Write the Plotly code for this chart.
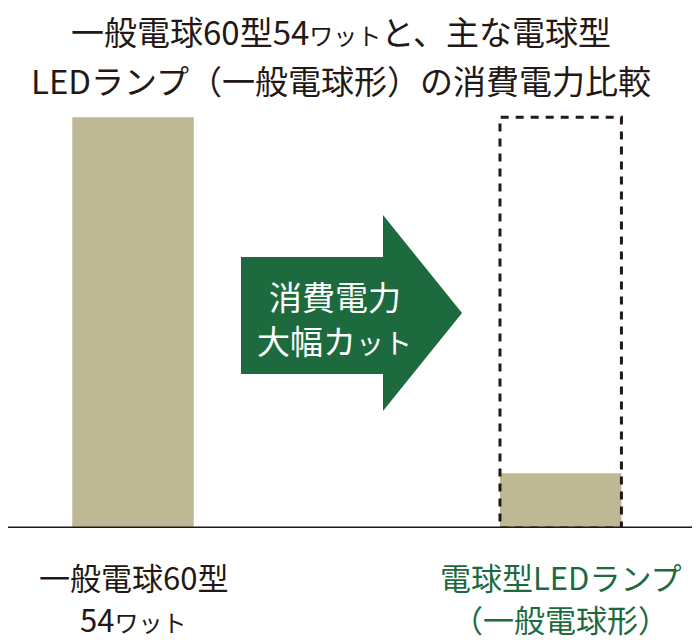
import plotly.graph_objects as go

# values (W)
categories = ["一般電球60型", "電球型LEDランプ"]
watts = [54, 7.2]
reference_watts = 54  # dashed outline on the LED bar

title_lines = [
    "一般電球60型54<span style='font-size:24px'>ワット</span>と、主な電球型",
    "LEDランプ（一般電球形）の消費電力比較",
]
bottom_labels = [
    ["一般電球60型", "54<span style='font-size:24px'>ワット</span>"],
    ["電球型LEDランプ", "（一般電球形）"],
]
arrow_lines = ["消費電力", "大幅カ<span style='font-size:28px'>ット</span>"]

FONT = "Noto Sans CJK JP"
INK = "#231815"
BEIGE = "#bfb894"
GREEN = "#1e6a3f"
BAR_W = 0.284

fig = go.Figure()
fig.add_trace(
    go.Bar(
        x=categories,
        y=watts,
        width=BAR_W,
        marker=dict(color=BEIGE, line=dict(width=0)),
        hoverinfo="skip",
    )
)

# dashed outline showing the 54W level over the LED bar
fig.add_shape(
    type="rect",
    xref="x",
    yref="y",
    x0=1 - BAR_W / 2,
    x1=1 + BAR_W / 2,
    y0=0,
    y1=reference_watts,
    line=dict(color=INK, width=3, dash="8px,7px"),
    fillcolor="rgba(0,0,0,0)",
    layer="above",
)

# baseline
fig.add_shape(
    type="line",
    xref="paper",
    yref="y",
    x0=0,
    x1=1,
    y0=0,
    y1=0,
    line=dict(color=INK, width=3),
    layer="above",
)

# big green arrow
fig.add_shape(
    type="path",
    xref="paper",
    yref="paper",
    path=(
        "M 0.3367 0.6362 L 0.5419 0.6362 L 0.5419 0.7347 L 0.6561 0.5047 "
        "L 0.5419 0.2746 L 0.5419 0.3615 L 0.3367 0.3615 Z"
    ),
    fillcolor=GREEN,
    line=dict(width=0),
    layer="above",
)

annotations = []
for line, y in zip(arrow_lines, [0.5446, 0.4413]):
    annotations.append(
        dict(
            text=line,
            x=0.4725,
            y=y,
            xref="paper",
            yref="paper",
            xanchor="center",
            yanchor="middle",
            showarrow=False,
            font=dict(family=FONT, size=33, color="white"),
        )
    )
for line, y in zip(title_lines, [1.166, 1.0516]):
    annotations.append(
        dict(
            text=line,
            x=0.4812,
            y=y,
            xref="paper",
            yref="paper",
            xanchor="center",
            yanchor="middle",
            showarrow=False,
            font=dict(family=FONT, size=33, color=INK),
        )
    )
for cat, lines, color in zip(categories, bottom_labels, [INK, GREEN]):
    for line, y in zip(lines, [-0.1150, -0.2136]):
        annotations.append(
            dict(
                text=line,
                x=cat,
                y=y,
                xref="x",
                yref="paper",
                xanchor="center",
                yanchor="middle",
                showarrow=False,
                font=dict(family=FONT, size=31, color=color),
            )
        )

fig.update_layout(
    width=692,
    height=632,
    margin=dict(l=0, r=0, t=94, b=112),
    paper_bgcolor="white",
    plot_bgcolor="white",
    showlegend=False,
    xaxis=dict(
        type="category",
        range=[-0.2923, 1.3257],
        visible=False,
        fixedrange=True,
    ),
    yaxis=dict(
        range=[0, 56],
        visible=False,
        fixedrange=True,
    ),
    annotations=annotations,
)

fig.write_html("out.html")
